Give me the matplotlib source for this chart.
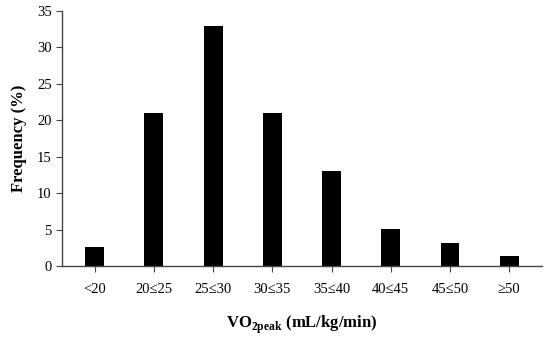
import matplotlib.pyplot as plt

categories = ["<20", "20≤25", "25≤30", "30≤35", "35≤40", "40≤45", "45≤50", "≥50"]
frequency = [2.6, 21.0, 33.0, 21.0, 13.1, 5.1, 3.2, 1.4]

plt.rcParams["font.family"] = ["Liberation Serif", "DejaVu Serif"]
plt.rcParams["mathtext.fontset"] = "custom"
plt.rcParams["mathtext.rm"] = "Liberation Serif"
plt.rcParams["mathtext.bf"] = "Liberation Serif:bold"

fig = plt.figure(figsize=(5.5, 3.42), dpi=100)
ax = fig.add_axes([0.113, 0.222, 0.872, 0.746])

x = range(len(categories))
ax.bar(x, frequency, width=0.32, color="black")

ax.set_xlim(-0.55, len(categories) - 0.45)
ax.set_ylim(0, 35)
ax.set_yticks(range(0, 36, 5))
ax.set_xticks(list(x))
ax.set_xticklabels(categories)

for side in ["top", "right"]:
    ax.spines[side].set_visible(False)
for side in ["left", "bottom"]:
    ax.spines[side].set_color("#444444")
    ax.spines[side].set_linewidth(1.0)

ax.tick_params(axis="both", colors="#444444", labelcolor="black", labelsize=10.5, length=4)
ax.tick_params(axis="x", pad=8)

ax.set_ylabel("Frequency (%)", fontsize=12, fontweight="bold", labelpad=7)
ax.set_xlabel(r"VO$_{\mathbf{2peak}}$ (mL/kg/min)", fontsize=12, fontweight="bold", labelpad=13)

fig.savefig("out.png", dpi=100)
